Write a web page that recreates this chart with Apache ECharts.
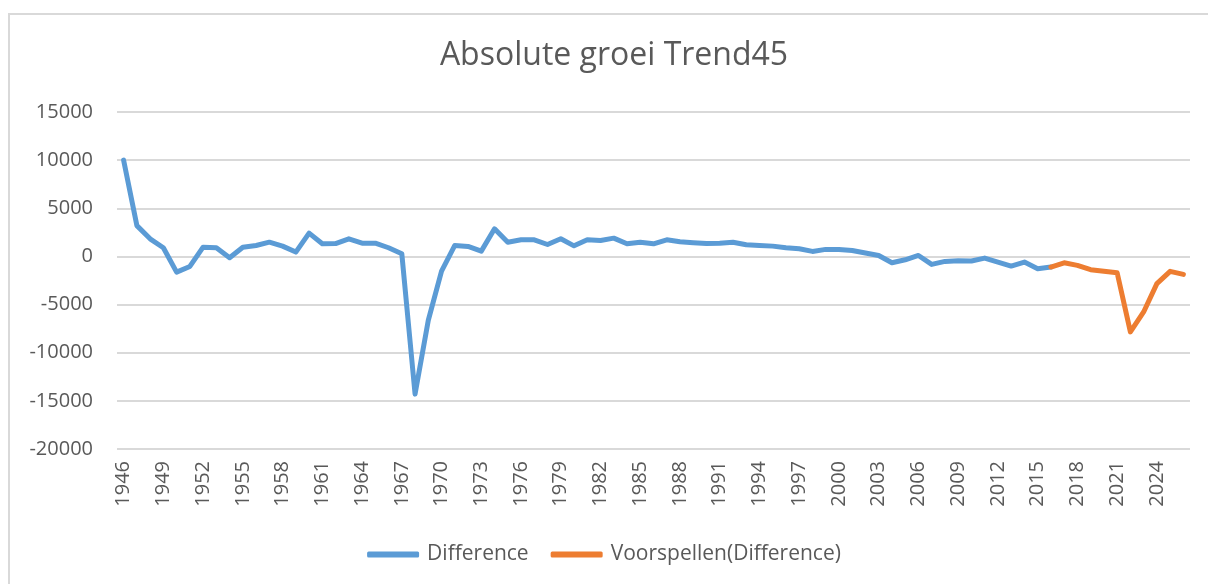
<!DOCTYPE html>
<html>
<head>
<meta charset="utf-8">
<script src="https://cdn.jsdelivr.net/npm/echarts@6/dist/echarts.min.js"></script>
<style>
    html, body { margin: 0; padding: 0; background: #fff; overflow: hidden; }
    .frame {
        position: absolute;
        left: 8px;
        top: 13px;
        width: 1400px;
        height: 800px;
        border: 2px solid #d9d9d9;
    }
    #chart {
        position: absolute;
        left: 0;
        top: 0;
        width: 1208px;
        height: 584px;
    }
</style>
</head>
<body>
<div class="frame"></div>
<div id="chart"></div>
<script>
// years 1946 - 2026
const years = [];
for (let y = 1946; y <= 2026; y++) years.push(String(y));

// Difference 1946 - 2016
const difference = [
    10000, 3200, 1830, 900, -1630, -1040, 960, 900, -140, 960,
    1140, 1480, 1070, 450, 2420, 1310, 1330, 1830, 1380, 1380,
    900, 280, -14300, -6630, -1520, 1140, 1040, 550, 2870, 1480,
    1730, 1730, 1240, 1830, 1100, 1730, 1660, 1900, 1310, 1480,
    1310, 1730, 1520, 1420, 1350, 1380, 1480, 1210, 1140, 1070,
    900, 800, 520, 730, 730, 620, 350, 100, -660, -350,
    100, -830, -520, -450, -480, -170, -590, -1000, -590, -1280,
    -1100
];

// Voorspellen(Difference) 2016 - 2026
const forecast = [-1100, -660, -930, -1380, -1550, -1690, -7840, -5770, -2830, -1550, -1870];

const yTicks = { min: -20000, max: 15000, interval: 5000 };

const forecastFull = years.map((y, i) => {
    const k = i - (years.length - forecast.length);
    return k >= 0 ? forecast[k] : null;
});

const chart = echarts.init(document.getElementById('chart'));
const font = 'Open Sans';
const option = {
    animation: false,
    title: {
        text: 'Absolute groei Trend45',
        left: 609,
        top: 35,
        textAlign: 'center',
        textStyle: {
            fontFamily: font,
            fontSize: 32,
            fontWeight: 'normal',
            color: '#595959'
        }
    },
    legend: {
        bottom: 14,
        left: 'center',
        itemWidth: 52,
        itemHeight: 6,
        itemGap: 22,
        icon: 'roundRect',
        textStyle: {
            fontFamily: font,
            fontSize: 21,
            color: '#595959',
            padding: [0, 0, 0, 3]
        },
        data: ['Difference', 'Voorspellen(Difference)']
    },
    grid: {
        left: 117,
        right: 18,
        top: 112,
        bottom: 135
    },
    xAxis: {
        type: 'category',
        data: years,
        boundaryGap: true,
        axisLine: { show: false },
        axisTick: { show: false },
        axisLabel: {
            interval: 2,
            rotate: 90,
            margin: 12,
            fontFamily: font,
            fontSize: 20,
            color: '#595959'
        }
    },
    yAxis: {
        type: 'value',
        min: yTicks.min,
        max: yTicks.max,
        interval: yTicks.interval,
        axisLine: { show: false },
        axisTick: { show: false },
        axisLabel: {
            margin: 24,
            fontFamily: font,
            fontSize: 20,
            color: '#595959',
            formatter: v => String(v)
        },
        splitLine: {
            lineStyle: { color: '#d9d9d9', width: 2 }
        }
    },
    series: [
        {
            name: 'Difference',
            type: 'line',
            data: difference,
            symbol: 'none',
            lineStyle: { width: 5, color: '#5b9bd5', cap: 'round', join: 'round' },
            itemStyle: { color: '#5b9bd5' }
        },
        {
            name: 'Voorspellen(Difference)',
            type: 'line',
            data: forecastFull,
            symbol: 'none',
            lineStyle: { width: 5, color: '#ed7d31', cap: 'round', join: 'round' },
            itemStyle: { color: '#ed7d31' }
        }
    ]
};
chart.setOption(option);
</script>
</body>
</html>
